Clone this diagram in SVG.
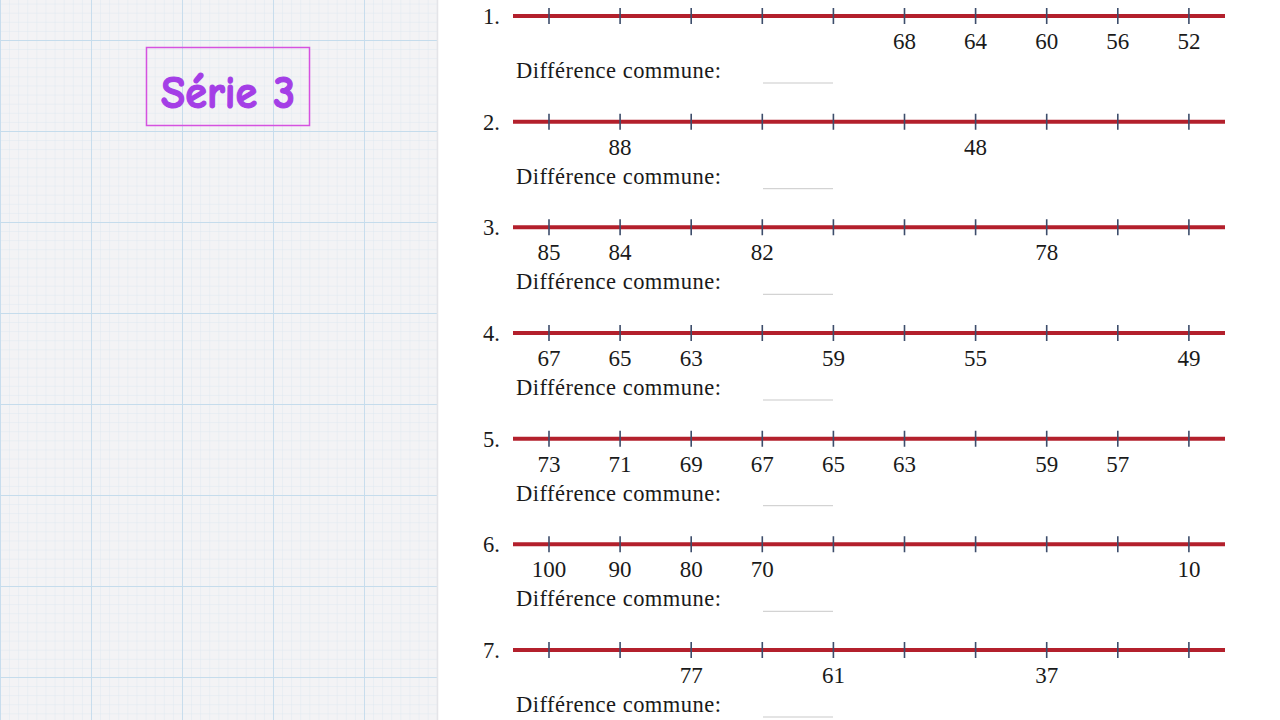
<svg xmlns="http://www.w3.org/2000/svg" width="1280" height="720" viewBox="0 0 1280 720">
<defs>
<pattern id="minor" width="9.1" height="9.1" patternUnits="userSpaceOnUse" patternTransform="translate(0,40)">
<path d="M0 0H9.1M0 0V9.1" stroke="#dbe6ef" stroke-width="0.8" fill="none"/>
</pattern>
<pattern id="major" width="91" height="91" patternUnits="userSpaceOnUse" patternTransform="translate(0,40)">
<path d="M0 0H91M0 0V91" stroke="#c5dcec" stroke-width="1.8" fill="none"/>
</pattern>
<g id="axis">
<line x1="513" y1="0" x2="1225" y2="0" class="red"/>
<path class="tick" d="M549 -8V8M620.1 -8V8M691.2 -8V8M762.3 -8V8M833.4 -8V8M904.5 -8V8M975.6 -8V8M1046.7 -8V8M1117.8 -8V8M1188.9 -8V8"/>
</g>
</defs>
<style>
.red{stroke:#b3202c;stroke-width:4}
.tick{stroke:#3d4d6b;stroke-width:1.6;fill:none}
.t{font-family:"Liberation Serif","Times New Roman",serif;font-size:22.5px;fill:#1a1a1a}
.n{font-family:"Liberation Serif","Times New Roman",serif;font-size:23px;fill:#1a1a1a;text-anchor:middle}
.blank{stroke:#c9c9c9;stroke-width:1}
</style>
<rect width="1280" height="720" fill="#ffffff"/>
<g id="panel">
<rect x="0" y="0" width="437" height="720" fill="#f3f3f5"/>
<rect x="0" y="0" width="437" height="720" fill="url(#minor)"/>
<rect x="0" y="0" width="437" height="720" fill="url(#major)"/>
<line x1="437.5" y1="0" x2="437.5" y2="720" stroke="#e4e4e8" stroke-width="1.5"/>
</g>
<g id="title">
<rect x="146.5" y="47.5" width="163" height="78" fill="none" stroke="#d552e0" stroke-width="1.5"/>
<text x="228" y="108" text-anchor="middle" font-family="'Comic Neue','DejaVu Sans',sans-serif" font-weight="bold" font-size="46" fill="#a43ee6" stroke="#a43ee6" stroke-width="1.2" textLength="134" lengthAdjust="spacingAndGlyphs">Série 3</text>
</g>
<g id="row1" transform="translate(0,16)">
<text class="t" x="483" y="8">1.</text>
<use href="#axis"/>
<text class="n" x="904.5" y="33">68</text><text class="n" x="975.6" y="33">64</text><text class="n" x="1046.7" y="33">60</text><text class="n" x="1117.8" y="33">56</text><text class="n" x="1188.9" y="33">52</text>
<text class="t" x="516" y="62" textLength="205">Différence commune:</text>
<line class="blank" x1="763" y1="67" x2="833" y2="67"/>
</g>
<g id="row2" transform="translate(0,121.7)">
<text class="t" x="483" y="8">2.</text>
<use href="#axis"/>
<text class="n" x="620.1" y="33">88</text><text class="n" x="975.6" y="33">48</text>
<text class="t" x="516" y="62" textLength="205">Différence commune:</text>
<line class="blank" x1="763" y1="67" x2="833" y2="67"/>
</g>
<g id="row3" transform="translate(0,227.3)">
<text class="t" x="483" y="8">3.</text>
<use href="#axis"/>
<text class="n" x="549" y="33">85</text><text class="n" x="620.1" y="33">84</text><text class="n" x="762.3" y="33">82</text><text class="n" x="1046.7" y="33">78</text>
<text class="t" x="516" y="62" textLength="205">Différence commune:</text>
<line class="blank" x1="763" y1="67" x2="833" y2="67"/>
</g>
<g id="row4" transform="translate(0,333)">
<text class="t" x="483" y="8">4.</text>
<use href="#axis"/>
<text class="n" x="549" y="33">67</text><text class="n" x="620.1" y="33">65</text><text class="n" x="691.2" y="33">63</text><text class="n" x="833.4" y="33">59</text><text class="n" x="975.6" y="33">55</text><text class="n" x="1188.9" y="33">49</text>
<text class="t" x="516" y="62" textLength="205">Différence commune:</text>
<line class="blank" x1="763" y1="67" x2="833" y2="67"/>
</g>
<g id="row5" transform="translate(0,438.7)">
<text class="t" x="483" y="8">5.</text>
<use href="#axis"/>
<text class="n" x="549" y="33">73</text><text class="n" x="620.1" y="33">71</text><text class="n" x="691.2" y="33">69</text><text class="n" x="762.3" y="33">67</text><text class="n" x="833.4" y="33">65</text><text class="n" x="904.5" y="33">63</text><text class="n" x="1046.7" y="33">59</text><text class="n" x="1117.8" y="33">57</text>
<text class="t" x="516" y="62" textLength="205">Différence commune:</text>
<line class="blank" x1="763" y1="67" x2="833" y2="67"/>
</g>
<g id="row6" transform="translate(0,544.3)">
<text class="t" x="483" y="8">6.</text>
<use href="#axis"/>
<text class="n" x="549" y="33">100</text><text class="n" x="620.1" y="33">90</text><text class="n" x="691.2" y="33">80</text><text class="n" x="762.3" y="33">70</text><text class="n" x="1188.9" y="33">10</text>
<text class="t" x="516" y="62" textLength="205">Différence commune:</text>
<line class="blank" x1="763" y1="67" x2="833" y2="67"/>
</g>
<g id="row7" transform="translate(0,650)">
<text class="t" x="483" y="8">7.</text>
<use href="#axis"/>
<text class="n" x="691.2" y="33">77</text><text class="n" x="833.4" y="33">61</text><text class="n" x="1046.7" y="33">37</text>
<text class="t" x="516" y="62" textLength="205">Différence commune:</text>
<line class="blank" x1="763" y1="67" x2="833" y2="67"/>
</g>
</svg>
